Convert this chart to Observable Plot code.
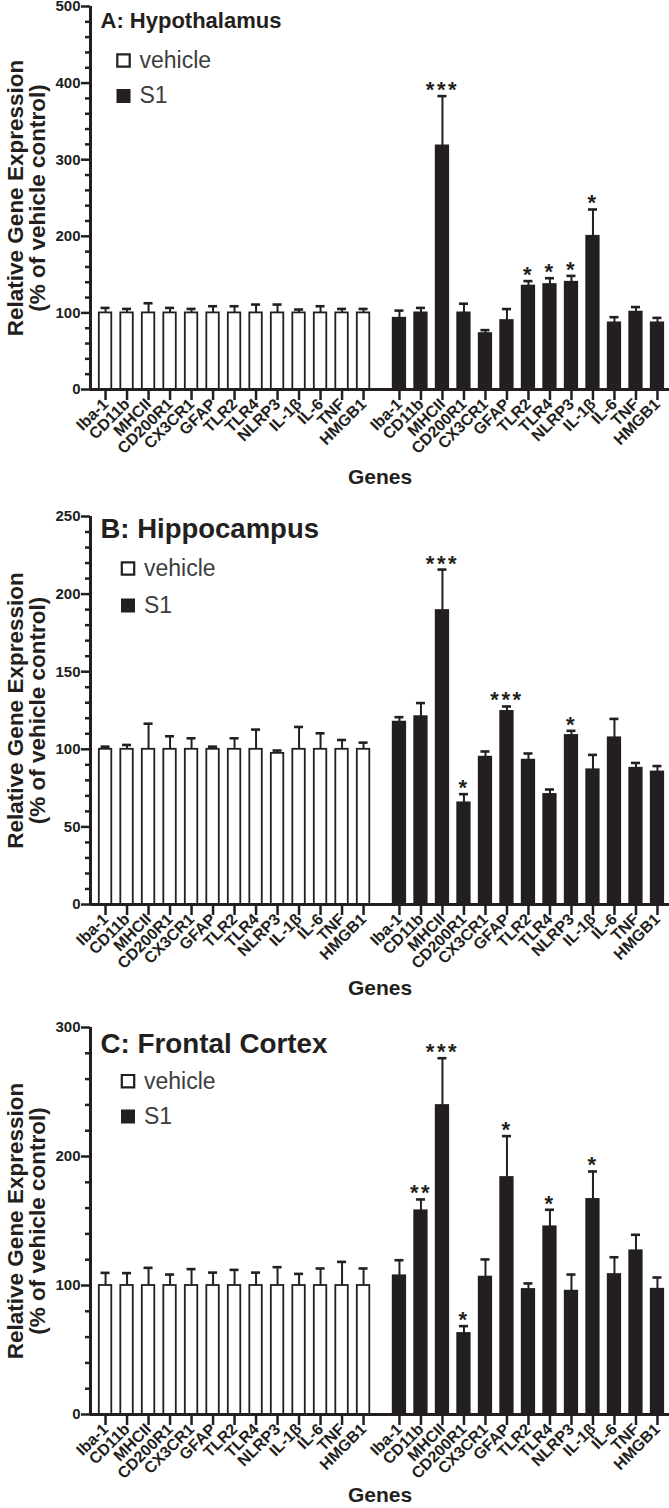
<!DOCTYPE html>
<html><head><meta charset="utf-8">
<script src="https://cdn.jsdelivr.net/npm/d3@7"></script>
<script src="https://cdn.jsdelivr.net/npm/@observablehq/plot@0.6"></script>
<style>
body{margin:0;background:#fff}
#chart svg{display:block;overflow:visible}
</style>
</head><body><div id="chart"></div>
<script>
// ---------- data ----------
const genes = ["Iba-1","CD11b","MHCII","CD200R1","CX3CR1","GFAP","TLR2","TLR4","NLRP3","IL-1β","IL-6","TNF","HMGB1"];
const groups = ["vehicle","S1"];

// A: Hypothalamus
const hypoVehicleMean = [100,100,100,100,100,100,100,100,100,100,100,100,100];
const hypoVehicleErr  = [6.5,5.2,12.6,6.5,5.2,8.7,8.7,10.9,10.9,4.4,8.7,5.2,5.2];
const hypoS1Mean = [93,100,318,100,73,90,135,137,140,200,87,101,87];
const hypoS1Err  = [10,6.5,65,12,4.5,15,6.5,8.3,8.3,35,7.4,6.6,6.5];
const hypoS1Sig  = ["","","***","","","","*","*","*","*","","",""];

// B: Hippocampus
const hippoVehicleMean = [100,100,100,100,100,100,100,100,97.4,100,100,100,100];
const hippoVehicleErr  = [1.7,2.8,16.5,8.4,7.1,1.7,7.1,12.7,1.8,14.4,10.3,6,4.3];
const hippoS1Mean = [117.5,121,189.4,65.5,94.9,124.4,93,70.9,108.9,86.8,107.4,87.8,85.4];
const hippoS1Err  = [3.2,8.8,26.4,5.6,3.7,3.2,4.3,3.2,3,9.6,12.2,3.4,3.8];
const hippoS1Sig  = ["","","***","*","","***","","","*","","","",""];

// C: Frontal Cortex
const cortexVehicleMean = [100,100,100,100,100,100,100,100,100,100,100,100,100];
const cortexVehicleErr  = [9.8,9.6,13.7,8.5,12.7,10,12.1,10,14.2,9,13.2,18.3,13.2];
const cortexS1Mean = [107.5,157.9,239.5,62.8,106.5,183.7,96.9,145.5,95.6,166.7,108.5,126.9,97.1];
const cortexS1Err  = [12.1,8.8,36.7,5.7,13.7,32.1,4.7,13.2,12.9,21.7,13.4,12.4,9.1];
const cortexS1Sig  = ["","**","***","*","","*","","*","","*","","",""];

const yTitle = "Relative Gene Expression\n(% of vehicle control)";
const xTitle = "Genes";

// ---------- drawing ----------
const INK = "#231f20";
const FONT = "'Liberation Sans', Arial, Helvetica, sans-serif";
const GAP = 0.67;              // extra space between the two groups (in band steps)
const X_DOMAIN = [-0.70, 26.23];

function panel(cfg) {
  const rows = [];
  cfg.series.forEach((s, gi) => {
    genes.forEach((gene, i) => {
      rows.push({group: groups[gi], gene, pos: i + gi * (genes.length + GAP),
                 mean: s.mean[i], err: s.err[i], sig: s.sig ? s.sig[i] : ""});
    });
  });
  const labelOf = new Map(rows.map(d => [d.pos, d.gene]));
  const major = d3.range(0, cfg.yMax + 1e-9, cfg.major);
  const minor = d3.range(0, cfg.yMax + 1e-9, cfg.minor).filter(v => !major.includes(v));
  const halfBar = 0.29, halfCap = 0.21;

  const svg = Plot.plot({
    width: 669, height: cfg.height,
    marginLeft: 90, marginRight: 0, marginTop: cfg.marginTop, marginBottom: cfg.marginBottom,
    x: {type: "linear", domain: X_DOMAIN, axis: null},
    y: {domain: [0, cfg.yMax], axis: null},
    style: {fontFamily: FONT, color: INK, background: "white"},
    marks: [
      // y axis: minor + major ticks
      Plot.axisY(minor, {tickSize: 5, strokeWidth: 2.5, tickFormat: () => "", label: null}),
      Plot.axisY(major, {tickSize: 9, strokeWidth: 2.5, tickPadding: 1, fontSize: cfg.tickFont,
                         fontWeight: "bold", label: null, tickFormat: d3.format("d")}),
      // bars
      Plot.rectY(rows, {x1: d => d.pos - halfBar, x2: d => d.pos + halfBar, y1: 0, y2: "mean",
                        fill: d => d.group === "vehicle" ? "white" : INK, stroke: INK, strokeWidth: 1.8}),
      // error bars (upper)
      Plot.ruleX(rows, {x: "pos", y1: "mean", y2: d => d.mean + d.err, stroke: INK, strokeWidth: 2}),
      Plot.ruleY(rows, {y: d => d.mean + d.err, x1: d => d.pos - halfCap, x2: d => d.pos + halfCap,
                        stroke: INK, strokeWidth: 2.6}),
      // significance stars
      Plot.text(rows.filter(d => d.sig), {x: "pos", y: d => d.mean + d.err, text: "sig",
                        fontSize: 22, fontWeight: "bold", fill: INK, lineAnchor: "bottom", dy: 1}),
      // axis lines
      Plot.ruleX([X_DOMAIN[0]], {y1: 0, y2: cfg.yMax, stroke: INK, strokeWidth: 3}),
      Plot.ruleY([0], {stroke: INK, strokeWidth: 3}),
      // x axis ticks + gene labels
      Plot.axisX(rows.map(d => d.pos), {tickSize: 11, strokeWidth: 2.5, tickRotate: -45,
                        tickFormat: p => labelOf.get(p), fontSize: cfg.geneFont, fontWeight: "bold",
                        tickPadding: 1, label: null}),
      // x title
      Plot.text([xTitle], {frameAnchor: "bottom", dy: cfg.xTitleDy, fontSize: cfg.xTitleFont,
                        lineAnchor: "middle", fontWeight: "bold", fill: INK}),
      // y title
      Plot.text([yTitle], {frameAnchor: "left", dx: -63.5, rotate: -90, textAnchor: "middle",
                        lineAnchor: "middle", fontSize: cfg.yTitleFont,
                        fontWeight: "bold", lineHeight: 1.0, fill: INK}),
      // panel title
      Plot.text([cfg.title], {frameAnchor: "top-left", dx: 10, dy: cfg.titleDy, textAnchor: "start",
                        lineAnchor: "bottom", fontSize: cfg.titleFont, fontWeight: "bold", fill: INK}),
      // legend swatches
      Plot.dot([groups[0]], {frameAnchor: "top-left", dx: cfg.legX, dy: cfg.legY1, symbol: "square",
                        r: 7.0, fill: "white", stroke: INK, strokeWidth: 2.2}),
      Plot.dot([groups[1]], {frameAnchor: "top-left", dx: cfg.legX, dy: cfg.legY2, symbol: "square",
                        r: 7.9, fill: INK}),
      // legend labels
      Plot.text([groups[0]], {frameAnchor: "top-left", dx: cfg.legX + 16, dy: cfg.legY1,
                        text: d => d, textAnchor: "start", lineAnchor: "middle",
                        fontSize: cfg.legFont, fill: "#3d3d3d"}),
      Plot.text([groups[1]], {frameAnchor: "top-left", dx: cfg.legX + 16, dy: cfg.legY2,
                        text: d => d, textAnchor: "start", lineAnchor: "middle",
                        fontSize: cfg.legFont, fill: "#3d3d3d"}),
    ]
  });
  // widen the significance asterisks a little
  d3.select(svg).selectAll("text").filter(function() { return /^\*+$/.test(this.textContent); })
    .attr("letter-spacing", 2.5);
  return svg;
}

const panels = [
  {title: "A: Hypothalamus", yMax: 500, major: 100, minor: 20, height: 503, marginTop: 6, marginBottom: 114,
   series: [{mean: hypoVehicleMean, err: hypoVehicleErr}, {mean: hypoS1Mean, err: hypoS1Err, sig: hypoS1Sig}],
   tickFont: 15, geneFont: 16, xTitleFont: 21, xTitleDy: 88, yTitleFont: 22.5,
   titleFont: 22, titleDy: 21, legX: 33, legY1: 54, legY2: 89.5, legFont: 23},
  {title: "B: Hippocampus", yMax: 250, major: 50, minor: 10, height: 503, marginTop: 13, marginBottom: 102,
   series: [{mean: hippoVehicleMean, err: hippoVehicleErr}, {mean: hippoS1Mean, err: hippoS1Err, sig: hippoS1Sig}],
   tickFont: 15, geneFont: 16, xTitleFont: 21, xTitleDy: 84, yTitleFont: 22.5,
   titleFont: 27.5, titleDy: 21, legX: 37.5, legY1: 52, legY2: 89, legFont: 23},
  {title: "C: Frontal Cortex", yMax: 300, major: 100, minor: 20, height: 502, marginTop: 21, marginBottom: 94,
   series: [{mean: cortexVehicleMean, err: cortexVehicleErr}, {mean: cortexS1Mean, err: cortexS1Err, sig: cortexS1Sig}],
   tickFont: 15, geneFont: 16, xTitleFont: 21, xTitleDy: 81, yTitleFont: 22.5,
   titleFont: 27.8, titleDy: 25, legX: 37.5, legY1: 53.7, legY2: 89, legFont: 23},
];

const root = document.getElementById("chart");
for (const cfg of panels) root.appendChild(panel(cfg));
</script>
</body></html>
